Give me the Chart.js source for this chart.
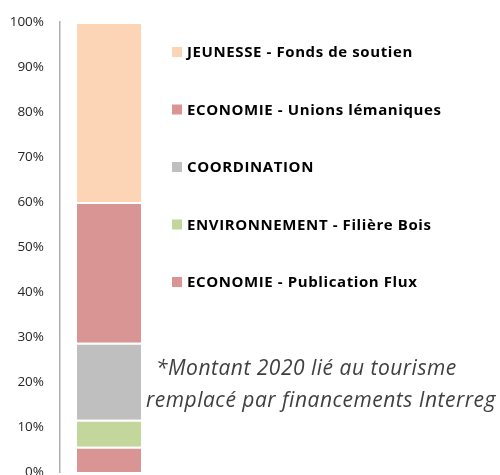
<!DOCTYPE html>
<html>
<head>
<meta charset="utf-8">
<script src="https://cdn.jsdelivr.net/npm/chart.js@4"></script>
<style>
  html, body { margin: 0; padding: 0; background: #fff; }
  #wrap { width: 500px; height: 475px; position: relative; }
</style>
</head>
<body>
<div id="wrap"><canvas id="budgetChart" width="500" height="475"></canvas></div>
<script>
// -- données (parts en %, du bas vers le haut) --
const categories = ['2020'];
const seriesLabels = [
    'ECONOMIE - Publication Flux',
    'ENVIRONNEMENT - Filière Bois',
    'COORDINATION',
    'ECONOMIE - Unions lémaniques',
    'JEUNESSE - Fonds de soutien'
];
const seriesValues = [5.6, 6.0, 17.1, 31.3, 40.0];
const seriesColors = ['#D99594', '#C3D69B', '#BFBFBF', '#D99594', '#FBD5B5'];
const noteLines = ['*Montant 2020 lié au tourisme', 'remplacé par financements Interreg'];

const datasets = seriesLabels.map((label, i) => ({
    label,
    data: [seriesValues[i]],
    backgroundColor: seriesColors[i],
    borderColor: '#ffffff',
    borderWidth: { top: 2, bottom: 0, left: 0, right: 0 },
    borderSkipped: false
}));

// -- légende + note dessinées à droite du graphique --
const sideTextPlugin = {
    id: 'sideText',
    afterDraw(chart) {
        const ctx = chart.ctx;
        ctx.save();
        ctx.textAlign = 'left';
        ctx.textBaseline = 'alphabetic';
        ctx.font = 'bold 15px "Open Sans", sans-serif';
        ctx.letterSpacing = '0.6px';
        const items = chart.data.datasets.slice().reverse();
        items.forEach((ds, i) => {
            const y = 52 + i * 57.5;
            ctx.fillStyle = ds.backgroundColor;
            ctx.fillRect(172, y - 5, 10, 10);
            ctx.fillStyle = '#000000';
            ctx.fillText(ds.label, 187, y + 5.3);
        });
        ctx.font = 'italic 21px "Open Sans", sans-serif';
        ctx.letterSpacing = '0.5px';
        ctx.fillStyle = '#404040';
        ctx.fillText(noteLines[0], 156, 375);
        ctx.fillText(noteLines[1], 146, 407);
        ctx.restore();
    }
};

new Chart(document.getElementById('budgetChart').getContext('2d'), {
    type: 'bar',
    data: { labels: categories, datasets },
    options: {
        responsive: false,
        animation: false,
        events: [],
        layout: { padding: { left: 0, right: 342, top: 22, bottom: 3 } },
        categoryPercentage: 1,
        barPercentage: 0.653,
        plugins: {
            legend: { display: false },
            tooltip: { enabled: false },
            title: { display: false }
        },
        scales: {
            x: { stacked: true, display: false },
            y: {
                stacked: true,
                min: 0,
                max: 100,
                afterFit: (scale) => {
                    scale.width = 60;
                    scale.paddingTop = 0;
                    scale.paddingBottom = 0;
                },
                ticks: {
                    stepSize: 10,
                    padding: 16,
                    color: '#262626',
                    font: { family: '"Open Sans", sans-serif', size: 13.5 },
                    callback: v => v + '%'
                },
                grid: { display: false, drawTicks: false },
                border: { display: true, color: '#ADADAD', width: 1.5 }
            }
        }
    },
    plugins: [sideTextPlugin]
});
</script>
</body>
</html>
